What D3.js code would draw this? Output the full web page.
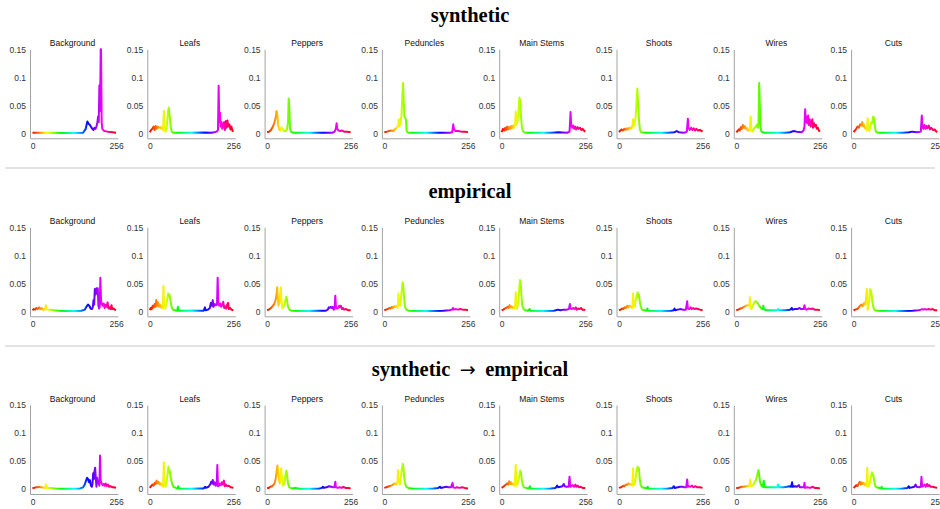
<!DOCTYPE html>
<html>
<head>
<meta charset="utf-8">
<script src="https://cdn.jsdelivr.net/npm/d3@7"></script>
<style>
	body { margin: 0; background: #fff; }
	.rowTitle { font-family: "Liberation Serif", "Times New Roman", serif; font-weight: bold; font-size: 20.5px; fill: #000; }
	.rowTitle .arrow { font-family: "DejaVu Sans", sans-serif; font-weight: normal; font-size: 19px; }
	.panelTitle { font-family: "Liberation Sans", Arial, Helvetica, sans-serif; font-size: 8.5px; fill: #111; }
	.axis text { font-family: "Liberation Sans", Arial, Helvetica, sans-serif; font-size: 8.5px; fill: #333; }
	.axis path { stroke: #a3a3a3; stroke-width: 1; }
</style>
</head>
<body>
<script>
///////////////////////////////////////////////////////////////////////////
//////////////////////////////// Data /////////////////////////////////////
///////////////////////////////////////////////////////////////////////////

var rowTitles = ["synthetic", "empirical", "synthetic \u2192 empirical"];
var classes = ["Background", "Leafs", "Peppers", "Peduncles", "Main Stems", "Shoots", "Wires", "Cuts"];
var yTicks = [0, 0.05, 0.1, 0.15];
var yTickLabels = ["0", "0.05", "0.1", "0.15"];
var xTicks = [0, 256];
var xTickLabels = ["0", "256"];

// [hue bin, frequency]
var synBackground = [[0,0.001],[40,0.001],[100,0.0005],[155,0.001],[163,0.008],[168,0.021],[172,0.017],[176,0.015],[182,0.009],[187,0.006],[190,0.01],[193,0.008],[196,0.012],[199,0.02],[201,0.03],[203,0.02],[205,0.086],[207,0.04],[209,0.15],[210,0.15],[212,0.02],[214,0.008],[220,0.004],[230,0.003],[245,0.002],[256,0.001]];
var synLeafs = [[0,0.002],[4,0.006],[8,0.008],[12,0.012],[15,0.006],[18,0.013],[21,0.008],[24,0.012],[28,0.01],[32,0.011],[36,0.008],[39,0.012],[41,0.005],[43,0.04],[45,0.01],[48,0.003],[52,0.012],[56,0.04],[58,0.046],[61,0.03],[64,0.012],[67,0.003],[72,0.001],[120,0.001],[160,0.0015],[190,0.001],[205,0.003],[209,0.006],[211,0.085],[213,0.02],[215,0.037],[217,0.012],[220,0.02],[222,0.008],[225,0.015],[228,0.02],[230,0.006],[233,0.022],[235,0.01],[238,0.023],[240,0.012],[244,0.016],[247,0.007],[250,0.012],[253,0.005],[256,0.003]];
var synPeppers = [[0,0.002],[6,0.003],[12,0.006],[18,0.012],[23,0.02],[27,0.03],[29,0.04],[31,0.035],[34,0.015],[38,0.006],[41,0.005],[44,0.011],[47,0.008],[52,0.004],[57,0.004],[61,0.008],[64,0.02],[66,0.062],[68,0.045],[70,0.01],[73,0.003],[80,0.001],[150,0.001],[200,0.001],[207,0.003],[211,0.009],[213,0.018],[215,0.008],[219,0.005],[224,0.004],[230,0.005],[236,0.003],[245,0.003],[256,0.002]];
var synPeduncles = [[0,0.002],[8,0.003],[15,0.004],[22,0.005],[28,0.004],[33,0.008],[38,0.01],[42,0.013],[44,0.025],[46,0.012],[49,0.02],[52,0.03],[55,0.07],[57,0.09],[59,0.06],[61,0.03],[64,0.027],[66,0.025],[68,0.004],[72,0.001],[140,0.001],[200,0.001],[208,0.002],[211,0.016],[213,0.008],[217,0.004],[226,0.004],[236,0.003],[246,0.003],[256,0.002]];
var synMainStems = [[0,0.002],[4,0.008],[8,0.005],[11,0.01],[14,0.006],[17,0.012],[20,0.007],[23,0.011],[26,0.008],[29,0.013],[32,0.009],[35,0.014],[38,0.01],[41,0.015],[43,0.039],[45,0.015],[48,0.02],[51,0.035],[54,0.064],[56,0.06],[59,0.03],[62,0.01],[66,0.003],[72,0.001],[150,0.001],[175,0.002],[200,0.001],[208,0.003],[211,0.038],[213,0.015],[216,0.01],[219,0.014],[222,0.008],[225,0.012],[228,0.007],[232,0.011],[236,0.008],[240,0.01],[244,0.006],[248,0.008],[252,0.005],[256,0.003]];
var synShoots = [[0,0.002],[4,0.005],[8,0.007],[12,0.005],[16,0.008],[20,0.006],[24,0.009],[28,0.007],[32,0.01],[36,0.008],[39,0.012],[41,0.01],[43,0.025],[45,0.012],[48,0.02],[51,0.03],[54,0.06],[56,0.08],[58,0.06],[61,0.025],[64,0.006],[68,0.002],[80,0.001],[150,0.001],[170,0.002],[177,0.004],[183,0.002],[200,0.001],[208,0.003],[211,0.026],[213,0.01],[217,0.006],[221,0.01],[225,0.006],[229,0.009],[233,0.005],[237,0.008],[242,0.005],[248,0.006],[256,0.003]];
var synWires = [[0,0.002],[4,0.004],[8,0.007],[11,0.005],[14,0.011],[17,0.008],[20,0.015],[23,0.01],[26,0.013],[29,0.008],[32,0.01],[35,0.005],[38,0.007],[41,0.004],[44,0.03],[46,0.008],[49,0.003],[52,0.006],[56,0.01],[60,0.012],[63,0.015],[66,0.01],[68,0.02],[70,0.09],[72,0.05],[74,0.01],[77,0.003],[85,0.001],[150,0.001],[165,0.002],[175,0.004],[185,0.003],[200,0.002],[206,0.005],[209,0.012],[211,0.043],[213,0.02],[215,0.03],[217,0.018],[220,0.032],[222,0.015],[225,0.025],[228,0.012],[231,0.02],[233,0.025],[235,0.01],[238,0.018],[241,0.012],[244,0.015],[247,0.008],[250,0.01],[253,0.005],[256,0.003]];
var synCuts = [[0,0.002],[4,0.005],[8,0.008],[12,0.012],[16,0.01],[20,0.016],[24,0.014],[27,0.02],[30,0.012],[33,0.015],[36,0.008],[39,0.01],[41,0.005],[43,0.027],[45,0.01],[48,0.004],[51,0.012],[54,0.02],[57,0.018],[60,0.03],[62,0.028],[65,0.012],[68,0.003],[75,0.001],[150,0.001],[170,0.002],[180,0.003],[195,0.002],[206,0.003],[209,0.032],[211,0.012],[214,0.008],[217,0.015],[220,0.008],[223,0.013],[226,0.009],[230,0.014],[234,0.007],[238,0.01],[243,0.006],[248,0.007],[252,0.004],[256,0.002]];

var empBackground = [[0,0.002],[4,0.004],[8,0.003],[12,0.006],[16,0.004],[20,0.007],[24,0.004],[28,0.006],[32,0.003],[36,0.004],[39,0.003],[41,0.011],[43,0.004],[48,0.003],[55,0.003],[65,0.002],[80,0.001],[100,0.0005],[130,0.0005],[150,0.001],[160,0.003],[166,0.009],[170,0.012],[174,0.01],[178,0.005],[182,0.004],[185,0.008],[187,0.02],[189,0.012],[191,0.04],[194,0.03],[196,0.041],[198,0.035],[200,0.041],[202,0.01],[204,0.005],[206,0.008],[208,0.06],[210,0.02],[212,0.013],[215,0.01],[218,0.014],[221,0.006],[224,0.012],[227,0.008],[230,0.016],[233,0.005],[236,0.007],[239,0.004],[242,0.011],[244,0.004],[248,0.005],[252,0.003],[256,0.002]];
var empLeafs = [[0,0.002],[3,0.006],[6,0.004],[9,0.01],[12,0.007],[15,0.013],[18,0.008],[20,0.02],[22,0.01],[25,0.016],[28,0.008],[31,0.012],[34,0.007],[37,0.01],[40,0.005],[42,0.045],[44,0.01],[47,0.005],[50,0.012],[53,0.02],[56,0.032],[58,0.027],[60,0.03],[63,0.02],[66,0.01],[70,0.003],[78,0.002],[84,0.001],[86,0.008],[88,0.001],[110,0.001],[130,0.0015],[150,0.001],[165,0.001],[169,0.007],[171,0.002],[178,0.003],[184,0.006],[187,0.015],[190,0.01],[193,0.02],[195,0.008],[199,0.013],[203,0.011],[206,0.012],[208,0.06],[210,0.012],[213,0.01],[216,0.014],[219,0.008],[222,0.012],[225,0.017],[228,0.006],[231,0.009],[234,0.005],[237,0.012],[240,0.015],[242,0.004],[246,0.006],[250,0.003],[256,0.002]];
var empPeppers = [[0,0.002],[5,0.003],[10,0.005],[15,0.008],[18,0.01],[22,0.013],[26,0.02],[29,0.03],[31,0.043],[33,0.025],[35,0.01],[38,0.015],[40,0.03],[42,0.043],[44,0.02],[47,0.005],[50,0.008],[53,0.012],[56,0.02],[59,0.026],[61,0.02],[64,0.008],[68,0.003],[75,0.001],[120,0.0005],[160,0.001],[180,0.001],[186,0.003],[189,0.007],[192,0.006],[195,0.008],[198,0.006],[201,0.008],[204,0.003],[207,0.004],[209,0.028],[211,0.008],[214,0.005],[218,0.006],[221,0.01],[223,0.008],[226,0.01],[229,0.004],[232,0.006],[236,0.003],[242,0.004],[248,0.002],[256,0.002]];
var empPeduncles = [[0,0.002],[5,0.003],[10,0.004],[15,0.006],[19,0.005],[23,0.008],[27,0.006],[31,0.009],[35,0.008],[38,0.01],[41,0.006],[43,0.032],[45,0.012],[48,0.01],[51,0.025],[54,0.045],[56,0.052],[58,0.045],[60,0.025],[63,0.008],[67,0.003],[75,0.001],[140,0.0005],[180,0.001],[200,0.002],[207,0.003],[210,0.006],[212,0.003],[218,0.004],[225,0.003],[232,0.004],[240,0.003],[248,0.003],[256,0.002]];
var empMainStems = [[0,0.002],[5,0.003],[10,0.005],[14,0.006],[18,0.008],[21,0.006],[24,0.011],[27,0.007],[30,0.009],[33,0.006],[37,0.008],[41,0.005],[43,0.034],[45,0.008],[47,0.005],[50,0.015],[53,0.035],[56,0.056],[58,0.05],[60,0.03],[63,0.01],[67,0.004],[72,0.002],[80,0.001],[86,0.004],[88,0.001],[130,0.0005],[160,0.001],[172,0.003],[180,0.002],[190,0.003],[200,0.003],[206,0.004],[209,0.013],[211,0.005],[215,0.004],[219,0.006],[223,0.004],[227,0.007],[230,0.003],[234,0.005],[238,0.004],[243,0.006],[247,0.003],[252,0.003],[256,0.002]];
var empShoots = [[0,0.002],[5,0.003],[9,0.005],[13,0.004],[17,0.007],[21,0.006],[25,0.01],[29,0.007],[33,0.01],[37,0.008],[41,0.006],[43,0.032],[45,0.01],[48,0.008],[51,0.02],[54,0.028],[57,0.034],[59,0.025],[61,0.03],[63,0.02],[66,0.01],[70,0.003],[78,0.002],[85,0.001],[87,0.005],[89,0.001],[130,0.0005],[160,0.001],[168,0.002],[170,0.005],[172,0.002],[180,0.003],[190,0.004],[195,0.003],[205,0.003],[209,0.018],[211,0.005],[215,0.004],[219,0.007],[223,0.004],[227,0.006],[231,0.004],[236,0.005],[242,0.004],[248,0.003],[256,0.002]];
var empWires = [[0,0.002],[6,0.003],[12,0.005],[18,0.006],[24,0.008],[30,0.01],[35,0.011],[40,0.01],[42,0.025],[44,0.005],[46,0.004],[50,0.01],[54,0.015],[58,0.018],[62,0.017],[66,0.014],[70,0.01],[74,0.007],[78,0.005],[81,0.004],[83,0.01],[85,0.003],[95,0.002],[110,0.002],[125,0.002],[128,0.004],[131,0.002],[150,0.002],[165,0.003],[170,0.006],[172,0.003],[180,0.004],[188,0.004],[194,0.006],[198,0.004],[206,0.004],[209,0.011],[211,0.004],[215,0.003],[222,0.005],[228,0.004],[234,0.005],[240,0.003],[248,0.003],[256,0.002]];
var empCuts = [[0,0.002],[5,0.003],[10,0.004],[15,0.006],[20,0.01],[24,0.012],[28,0.009],[32,0.015],[35,0.012],[38,0.02],[41,0.04],[43,0.003],[45,0.005],[48,0.02],[50,0.04],[53,0.037],[55,0.03],[58,0.015],[61,0.006],[65,0.002],[75,0.001],[140,0.0005],[180,0.001],[200,0.002],[206,0.003],[210,0.004],[214,0.003],[218,0.004],[224,0.003],[230,0.004],[236,0.003],[242,0.004],[248,0.002],[256,0.002]];

var s2eBackground = [[0,0.002],[5,0.002],[10,0.003],[15,0.003],[20,0.004],[25,0.003],[30,0.003],[36,0.002],[40,0.002],[42,0.008],[44,0.002],[55,0.002],[70,0.001],[90,0.0005],[120,0.0005],[145,0.001],[155,0.003],[160,0.008],[164,0.015],[167,0.02],[170,0.018],[173,0.012],[176,0.016],[179,0.006],[182,0.004],[184,0.01],[186,0.028],[188,0.018],[190,0.032],[192,0.038],[194,0.02],[196,0.004],[198,0.02],[200,0.012],[203,0.01],[205,0.006],[207,0.06],[209,0.015],[212,0.01],[215,0.007],[218,0.009],[221,0.006],[224,0.01],[227,0.005],[231,0.008],[235,0.004],[240,0.005],[245,0.003],[250,0.003],[256,0.002]];
var s2eLeafs = [[0,0.002],[4,0.005],[8,0.008],[12,0.006],[15,0.011],[18,0.009],[21,0.015],[24,0.01],[27,0.013],[30,0.008],[33,0.01],[36,0.007],[39,0.009],[41,0.004],[43,0.048],[45,0.005],[48,0.004],[51,0.012],[54,0.025],[57,0.04],[59,0.03],[61,0.033],[64,0.02],[68,0.01],[72,0.004],[80,0.002],[85,0.001],[87,0.005],[89,0.001],[120,0.0005],[150,0.001],[165,0.001],[169,0.004],[172,0.002],[180,0.004],[185,0.008],[188,0.013],[191,0.01],[193,0.016],[196,0.008],[199,0.012],[202,0.006],[205,0.007],[207,0.043],[209,0.005],[212,0.006],[215,0.01],[218,0.007],[221,0.012],[224,0.008],[227,0.015],[230,0.005],[233,0.008],[237,0.005],[242,0.006],[248,0.003],[256,0.002]];
var s2ePeppers = [[0,0.002],[5,0.002],[10,0.004],[15,0.005],[19,0.007],[23,0.01],[27,0.02],[30,0.035],[32,0.042],[34,0.03],[37,0.015],[39,0.01],[41,0.02],[43,0.037],[45,0.025],[48,0.006],[51,0.008],[54,0.015],[57,0.028],[59,0.033],[61,0.025],[64,0.01],[68,0.003],[75,0.001],[86,0.002],[100,0.0005],[140,0.0005],[160,0.001],[168,0.002],[171,0.004],[174,0.002],[182,0.003],[190,0.005],[196,0.004],[202,0.003],[206,0.003],[209,0.013],[211,0.003],[216,0.002],[222,0.003],[228,0.002],[234,0.004],[240,0.002],[248,0.002],[256,0.001]];
var s2ePeduncles = [[0,0.002],[5,0.003],[10,0.004],[15,0.005],[20,0.006],[25,0.007],[29,0.009],[33,0.01],[37,0.008],[40,0.012],[42,0.034],[44,0.012],[47,0.008],[50,0.02],[53,0.035],[56,0.045],[58,0.04],[60,0.025],[63,0.01],[67,0.004],[73,0.002],[85,0.001],[120,0.0005],[150,0.001],[165,0.002],[170,0.004],[173,0.002],[182,0.003],[190,0.004],[196,0.003],[204,0.003],[209,0.011],[211,0.003],[216,0.002],[222,0.003],[230,0.002],[238,0.003],[246,0.002],[256,0.001]];
var s2eMainStems = [[0,0.002],[5,0.004],[9,0.006],[13,0.008],[17,0.01],[20,0.008],[23,0.014],[26,0.009],[29,0.012],[32,0.008],[36,0.01],[40,0.006],[43,0.043],[45,0.006],[48,0.008],[51,0.015],[54,0.025],[57,0.033],[59,0.03],[61,0.018],[64,0.008],[68,0.003],[75,0.002],[84,0.001],[86,0.005],[88,0.001],[120,0.0005],[150,0.001],[165,0.002],[170,0.006],[173,0.003],[180,0.004],[186,0.005],[190,0.009],[193,0.005],[198,0.004],[205,0.004],[208,0.022],[210,0.004],[214,0.005],[218,0.007],[222,0.004],[226,0.008],[229,0.004],[233,0.006],[237,0.003],[242,0.004],[248,0.002],[256,0.002]];
var s2eShoots = [[0,0.002],[5,0.003],[9,0.004],[13,0.006],[17,0.005],[21,0.008],[25,0.007],[29,0.01],[33,0.008],[37,0.009],[41,0.006],[43,0.037],[45,0.007],[48,0.008],[51,0.02],[54,0.035],[57,0.04],[59,0.032],[61,0.037],[63,0.02],[66,0.008],[70,0.003],[80,0.002],[86,0.001],[88,0.004],[90,0.001],[120,0.0005],[150,0.001],[164,0.002],[168,0.005],[171,0.002],[180,0.003],[188,0.004],[194,0.004],[200,0.003],[206,0.003],[209,0.017],[211,0.004],[215,0.005],[219,0.004],[224,0.006],[228,0.003],[234,0.005],[240,0.003],[248,0.003],[256,0.002]];
var s2eWires = [[0,0.002],[6,0.002],[12,0.003],[18,0.004],[24,0.004],[30,0.005],[35,0.005],[40,0.006],[43,0.017],[45,0.005],[48,0.005],[52,0.008],[56,0.012],[60,0.016],[63,0.022],[66,0.03],[68,0.034],[70,0.025],[73,0.012],[77,0.006],[81,0.004],[84,0.015],[86,0.003],[95,0.003],[110,0.003],[125,0.003],[128,0.008],[131,0.003],[145,0.003],[155,0.004],[163,0.005],[168,0.004],[171,0.012],[173,0.004],[180,0.005],[186,0.004],[192,0.007],[195,0.003],[202,0.003],[207,0.003],[209,0.011],[211,0.002],[218,0.003],[226,0.002],[234,0.004],[240,0.002],[248,0.002],[256,0.001]];
var s2eCuts = [[0,0.002],[4,0.004],[8,0.007],[12,0.005],[16,0.01],[19,0.013],[22,0.008],[25,0.012],[28,0.009],[31,0.011],[34,0.007],[37,0.009],[40,0.005],[42,0.038],[44,0.005],[47,0.006],[50,0.012],[53,0.022],[56,0.03],[58,0.024],[60,0.026],[63,0.015],[66,0.006],[70,0.003],[80,0.002],[84,0.001],[86,0.004],[88,0.001],[120,0.0005],[150,0.001],[165,0.002],[169,0.005],[172,0.002],[180,0.003],[186,0.004],[190,0.008],[193,0.004],[200,0.003],[206,0.004],[208,0.022],[210,0.004],[214,0.006],[218,0.008],[221,0.004],[225,0.009],[228,0.005],[232,0.007],[236,0.004],[242,0.004],[248,0.003],[256,0.002]];

var rows = [
	[synBackground, synLeafs, synPeppers, synPeduncles, synMainStems, synShoots, synWires, synCuts],
	[empBackground, empLeafs, empPeppers, empPeduncles, empMainStems, empShoots, empWires, empCuts],
	[s2eBackground, s2eLeafs, s2ePeppers, s2ePeduncles, s2eMainStems, s2eShoots, s2eWires, s2eCuts]
];

///////////////////////////////////////////////////////////////////////////
//////////////////// Set up and initiate svg container ////////////////////
///////////////////////////////////////////////////////////////////////////

var width = 940,
	height = 509;

var panelWidth = 88,
	panelHeight = 89,
	panelLeft = 30,
	panelStep = 117.3,
	rowTop = [49.3, 227.3, 405],
	titleBaseline = [22, 198, 376],
	separators = [168, 346];

var svg = d3.select("body")
	.append("svg")
		.attr("width", width)
		.attr("height", height);

svg.append("rect")
	.attr("width", width)
	.attr("height", height)
	.style("fill", "#fff");

//Axis limits a little wider than the data, like the original offset axes
var x = d3.scaleLinear()
	.domain([-7.7, 262])
	.range([0, panelWidth]);

var y = d3.scaleLinear()
	.domain([-0.0089, 0.15])
	.range([panelHeight, 0]);

var line = d3.line()
	.x(function(d) { return x(d[0]); })
	.y(function(d) { return y(d[1]); });

//Hue of each bin, 0..256 -> 0..360 degrees
var hueColor = d3.scaleSequential(function(t) { return d3.hsl(t * 360, 1, 0.5).toString(); })
	.domain([0, 256]);

///////////////////////////////////////////////////////////////////////////
///////////////////////// Hue gradient for lines /////////////////////////
///////////////////////////////////////////////////////////////////////////

svg.append("defs")
	.append("linearGradient")
	.attr("id", "hue-gradient")
	.attr("gradientUnits", "userSpaceOnUse")
	.attr("x1", x(0)).attr("y1", 0)
	.attr("x2", x(256)).attr("y2", 0)
	.selectAll("stop")
	.data(d3.range(0, 257, 8))
	.enter().append("stop")
	.attr("offset", function(d) { return d / 256; })
	.attr("stop-color", function(d) { return hueColor(d); });

///////////////////////////////////////////////////////////////////////////
/////////////////////////////// Draw panels ///////////////////////////////
///////////////////////////////////////////////////////////////////////////

separators.forEach(function(sy) {
	svg.append("line")
		.attr("x1", 5).attr("x2", 935)
		.attr("y1", sy).attr("y2", sy)
		.style("stroke", "#c8c8c8")
		.style("stroke-width", 1.2);
});

rows.forEach(function(series, r) {
	var title = svg.append("text")
		.attr("class", "rowTitle")
		.attr("x", width / 2)
		.attr("y", titleBaseline[r])
		.style("text-anchor", "middle");

	//the arrow gets a math-like glyph of its own
	rowTitles[r].split(/(\u2192)/).forEach(function(part) {
		title.append("tspan")
			.attr("class", part === "\u2192" ? "arrow" : null)
			.text(part === "\u2192" ? "\u2002" + part + "\u2002" : part.trim());
	});

	series.forEach(function(values, c) {
		var g = svg.append("g")
			.attr("transform", "translate(" + (panelLeft + c * panelStep) + "," + rowTop[r] + ")");

		g.append("text")
			.attr("class", "panelTitle")
			.attr("x", 42.5)
			.attr("y", -3)
			.style("text-anchor", "middle")
			.text(classes[c]);

		g.append("g")
			.attr("class", "axis")
			.call(d3.axisLeft(y)
				.tickValues(yTicks)
				.tickFormat(function(d, i) { return yTickLabels[i]; })
				.tickSize(0)
				.tickPadding(4));

		g.append("g")
			.attr("class", "axis")
			.attr("transform", "translate(0," + panelHeight + ")")
			.call(d3.axisBottom(x)
				.tickValues(xTicks)
				.tickFormat(function(d, i) { return xTickLabels[i]; })
				.tickSize(0)
				.tickPadding(5));

		g.selectAll(".axis").attr("font-family", null).attr("font-size", null);

		g.append("path")
			.datum(values)
			.attr("d", line)
			.style("fill", "none")
			.style("stroke", "url(#hue-gradient)")
			.style("stroke-width", 2)
			.style("stroke-linejoin", "round");
	});
});
</script>
</body>
</html>
